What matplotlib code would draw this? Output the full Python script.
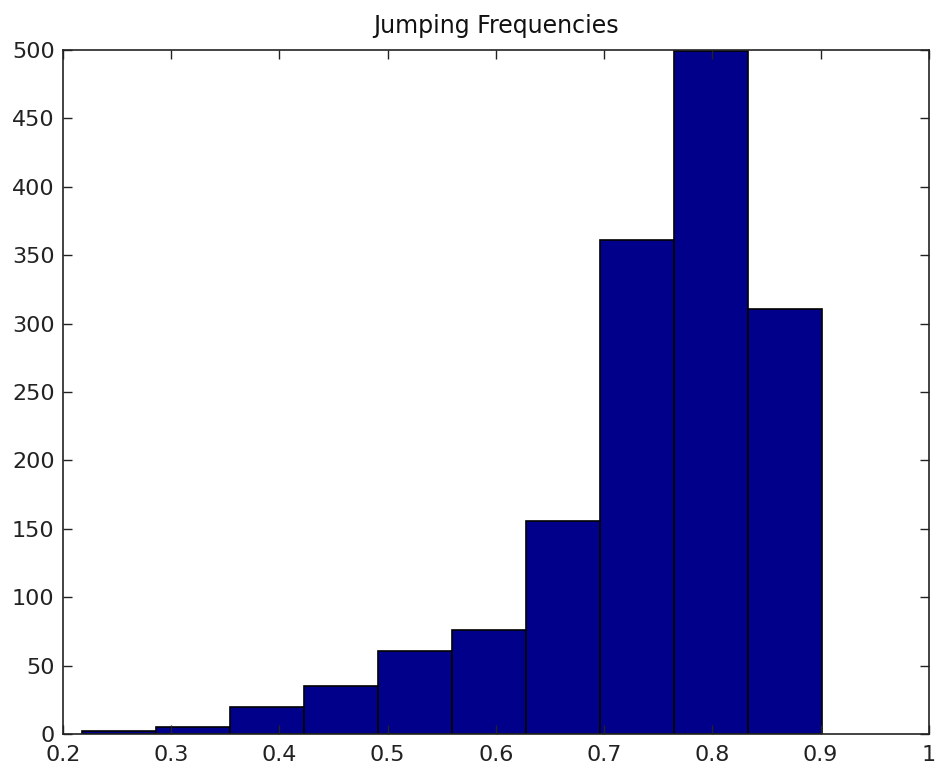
import matplotlib
matplotlib.use('Agg')
import matplotlib.pyplot as plt
import numpy as np

# histogram counts and bin edges (10 bins)
bin_lo = 0.218
bin_hi = 0.901
counts = [2, 5, 20, 35, 61, 76, 156, 361, 499, 311]
xticks = [0.2, 0.3, 0.4, 0.5, 0.6, 0.7, 0.8, 0.9, 1.0]
xtick_labels = ['0.2', '0.3', '0.4', '0.5', '0.6', '0.7', '0.8', '0.9', '1']
yticks = list(range(0, 501, 50))

edges = np.linspace(bin_lo, bin_hi, len(counts) + 1)

fig = plt.figure(figsize=(9.36, 7.74), dpi=100)
ax = fig.add_axes([0.0673, 0.0517, 0.9250, 0.8837])

ax.bar(edges[:-1], counts, width=np.diff(edges), align='edge',
       color='#00008B', edgecolor='black', linewidth=1.2)

ax.set_xlim(0.2, 1.0)
ax.set_ylim(0, 500)
ax.set_xticks(xticks)
ax.set_xticklabels(xtick_labels)
ax.set_yticks(yticks)

ax.tick_params(direction='in', top=True, right=True, length=6.5, width=1,
               labelsize=16, colors='#222222')
ax.tick_params(axis='x', pad=8)
ax.tick_params(axis='y', pad=6)
for s in ax.spines.values():
    s.set_linewidth(1.2)
    s.set_color('#222222')

ax.set_title('Jumping Frequencies', fontsize=17, pad=12, color='#111111')

fig.savefig('out.png', dpi=100)
